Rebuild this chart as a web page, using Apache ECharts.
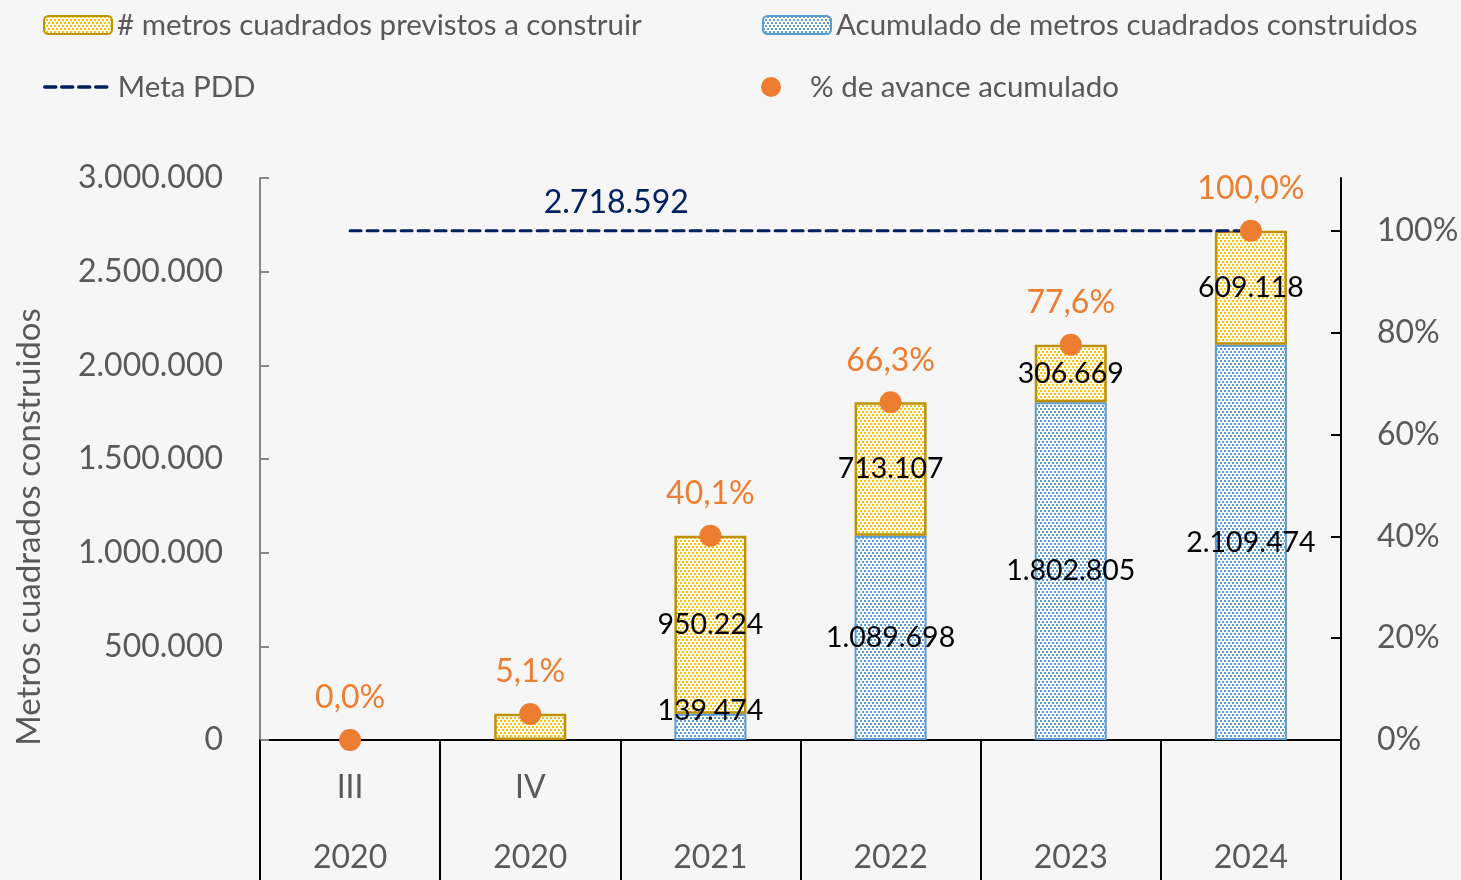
<!DOCTYPE html>
<html>
<head>
<meta charset="utf-8">
<script src="https://cdn.jsdelivr.net/npm/echarts@6/dist/echarts.min.js"></script>
<style>
  html, body { margin: 0; padding: 0; background: #f6f6f6; }
  #chart { width: 1461px; height: 880px; }
</style>
</head>
<body>
<div id="chart"></div>
<script>
  // data
  const periods = ['III', 'IV', '', '', '', '']
  const years = ['2020', '2020', '2021', '2022', '2023', '2024']
  const built = [0, 0, 139474, 1089698, 1802805, 2109474]
  const planned = [0, 139474, 950224, 713107, 306669, 609118]
  const goal = [2718592, 2718592, 2718592, 2718592, 2718592, 2718592]
  const progress = [0.0, 5.1, 40.1, 66.3, 77.6, 100.0]

  const FONT = 'Lato, "Liberation Sans", sans-serif'
  const GRAY = '#595959'

  function fmtNum(v) {
    return String(Math.round(v)).replace(/\B(?=(\d{3})+(?!\d))/g, '.')
  }

  // dotted fill like the excel pattern
  function dots(color) {
    const c = document.createElement('canvas')
    c.width = 4
    c.height = 6
    const ctx = c.getContext('2d')
    ctx.fillStyle = '#ffffff'
    ctx.fillRect(0, 0, 4, 6)
    ctx.fillStyle = color
    ctx.fillRect(0, 0, 2, 2)
    ctx.fillRect(2, 3, 2, 2)
    return { image: c, repeat: 'repeat' }
  }

  const chart = echarts.init(document.getElementById('chart'))

  const legendText = { color: GRAY, fontSize: 29.5, fontFamily: FONT }

  chart.setOption({
    backgroundColor: '#f6f6f6',
    animation: false,
    legend: [
      { left: 38, top: 5, itemWidth: 68, itemHeight: 18, itemGap: 0, textStyle: legendText,
        data: ['# metros cuadrados previstos a construir'] },
      { left: 757, top: 5, itemWidth: 68, itemHeight: 18, itemGap: 0, textStyle: legendText,
        data: ['Acumulado de metros cuadrados construidos'] },
      { left: 38, top: 67, itemWidth: 68, itemHeight: 18, itemGap: 4, textStyle: legendText,
        lineStyle: { width: 3.5 },
        data: [{ name: 'Meta PDD', itemStyle: { opacity: 0 } }] },
      { left: 756, top: 67, itemWidth: 68, itemHeight: 20, itemGap: 10, textStyle: legendText,
        data: [{ name: '% de avance acumulado', icon: 'circle' }] }
    ],
    grid: { left: 260, right: 120, top: 178, bottom: 140, outerBoundsMode: 'none' },
    xAxis: [
      {
        type: 'category',
        data: periods,
        axisLine: { lineStyle: { color: '#000', width: 2 } },
        axisTick: { show: true, length: 150, lineStyle: { color: '#000', width: 2 } },
        axisLabel: { margin: 32, color: GRAY, fontSize: 32, fontFamily: FONT }
      },
      {
        type: 'category',
        data: years,
        position: 'bottom',
        axisLine: { show: false },
        axisTick: { show: false },
        axisLabel: { margin: 102, color: GRAY, fontSize: 32, fontFamily: FONT }
      }
    ],
    yAxis: [
      {
        type: 'value',
        min: 0,
        max: 3000000,
        interval: 500000,
        name: 'Metros cuadrados construidos',
        nameLocation: 'middle',
        nameGap: 214,
        nameTextStyle: { color: GRAY, fontSize: 33, fontFamily: FONT, padding: [0, 136, 0, 0] },
        axisLine: { show: true, lineStyle: { color: '#868686', width: 2 } },
        axisTick: { show: true, inside: true, length: 9, lineStyle: { color: '#868686', width: 2 } },
        splitLine: { show: false },
        axisLabel: { margin: 37, color: GRAY, fontSize: 32, fontFamily: FONT, formatter: fmtNum }
      },
      {
        type: 'value',
        min: 0,
        max: 110.35,
        interval: 20,
        position: 'right',
        axisLine: { show: true, lineStyle: { color: '#000', width: 2 } },
        axisTick: { show: true, inside: true, length: 10, lineStyle: { color: '#000', width: 2 } },
        splitLine: { show: false },
        axisLabel: { margin: 36, color: GRAY, fontSize: 32, fontFamily: FONT, showMaxLabel: false,
          formatter: v => Math.round(v) + '%' }
      }
    ],
    series: [
      {
        name: 'Acumulado de metros cuadrados construidos',
        type: 'bar',
        stack: 'm2',
        barWidth: 72,
        itemStyle: { color: dots('#5b9bd5'), borderColor: '#5b9bd5', borderWidth: 2 },
        label: { show: true, position: 'inside', color: '#000', fontSize: 28.5, fontFamily: FONT,
          formatter: p => fmtNum(p.value) },
        data: built.map((v, i) => v === 0 ? '-' : (i === 2 ? { value: v, label: { offset: [0, -16] } } : v))
      },
      {
        name: '# metros cuadrados previstos a construir',
        type: 'bar',
        stack: 'm2',
        barWidth: 72,
        itemStyle: { color: dots('#ffc000'), borderColor: '#bf9000', borderWidth: 2.5 },
        label: { show: true, position: 'inside', color: '#000', fontSize: 28.5, fontFamily: FONT,
          formatter: p => fmtNum(p.value) },
        data: planned.map((v, i) => v === 0 ? '-' : (i === 1 ? { value: v, label: { show: false } } : v))
      },
      {
        name: 'Meta PDD',
        type: 'line',
        symbol: 'none',
        lineStyle: { color: '#002060', width: 3, type: [11, 6], cap: 'round' },
        itemStyle: { color: '#002060' },
        z: 3,
        markPoint: {
          symbol: 'circle',
          symbolSize: 0,
          label: { show: true, position: 'top', distance: 12, offset: [86, 0],
            color: '#002060', fontSize: 32, fontFamily: FONT, formatter: p => fmtNum(p.value) },
          data: [{ coord: [1, goal[1]], value: goal[1] }]
        },
        data: goal
      },
      {
        name: '% de avance acumulado',
        type: 'scatter',
        yAxisIndex: 1,
        symbol: 'circle',
        symbolSize: 22,
        z: 5,
        itemStyle: { color: '#ed7d31', opacity: 1 },
        label: { show: true, position: 'top', distance: 15, color: '#ed7d31', fontSize: 32, fontFamily: FONT,
          formatter: p => p.value.toFixed(1).replace('.', ',') + '%' },
        data: progress
      }
    ]
  })
</script>
</body>
</html>
